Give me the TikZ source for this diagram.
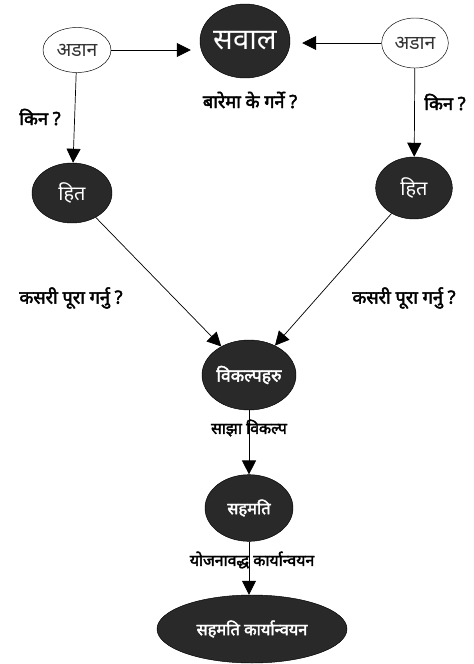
\documentclass[tikz,border=0pt]{standalone}
\usepackage{fontspec}
\newfontfamily\deva[Script=Devanagari]{Noto Sans}
\newfontfamily\devabf[Script=Devanagari,FakeBold=2.5]{Noto Sans}
\usetikzlibrary{arrows.meta,positioning,shapes.geometric}
\tikzset{
  stance/.style={draw,ellipse,fill=white,inner sep=0pt,text=black!80,font=\deva\fontsize{16.5}{18}\selectfont},
  dark/.style={draw,ellipse,fill=black!84,text=white,inner sep=0pt},
  ar/.style={-{Triangle[length=4.2mm,width=4.2mm]},semithick},
  lbl/.style={font=\devabf\fontsize{15.5}{17}\selectfont,inner sep=1pt},
  lbls/.style={font=\devabf\fontsize{13.5}{15}\selectfont,inner sep=1pt}
}

\begin{document}
\begin{tikzpicture}[x=0.03cm,y=-0.03cm]
  \useasboundingbox (0,0) rectangle (474,664);
  % अडान र सवाल
  \node[stance,minimum width=2.04cm,minimum height=1.35cm] (ladan) at (77,50) {अडान};
  \node[stance,minimum width=2.0cm,minimum height=1.5cm] (radan) at (415,43) {अडान};
  \node[dark,minimum width=2.7cm,minimum height=2.22cm,
        font=\deva\fontsize{25}{28}\selectfont] (sawal) at (245,41) {सवाल};
  \node[lbl] (qwhat) at (250,100) {बारेमा के गर्ने ?};
  \draw[ar,shorten >=0.27cm] (ladan.east) -- (ladan.east -| sawal.west);
  \draw[ar,shorten >=0.36cm] (radan.west) -- (radan.west -| sawal.east);

  % हित
  \node[dark,minimum width=2.4cm,minimum height=1.8cm,
        font=\deva\fontsize{17}{20}\selectfont] (lhit) at (72,193) {हित};
  \node[dark,minimum width=2.3cm,minimum height=1.86cm,
        font=\deva\fontsize{17}{20}\selectfont] (rhit) at (414,188) {हित};
  \draw[ar] (ladan) -- (lhit);
  \draw[ar] (radan) -- (rhit);
  \node[lbl] (lwhy) at (40,117) {किन ?};
  \node[lbl] (rwhy) at (445,102) {किन ?};

  % विकल्पहरु
  \node[dark,minimum width=2.82cm,minimum height=2.1cm,
        font=\devabf\fontsize{15}{17}\selectfont] (opts) at (249,375) {विकल्पहरु};
  \draw[ar] (lhit) -- (opts);
  \draw[ar] (rhit) -- (opts);
  \node[lbl] (lhow) at (71,298) {कसरी पूरा गर्नु ?};
  \node[lbl] (rhow) at (404,298) {कसरी पूरा गर्नु ?};

  % सहमति
  \node[dark,minimum width=2.64cm,minimum height=2.0cm,
        font=\devabf\fontsize{14}{16}\selectfont] (agree) at (249,508) {सहमति};
  \draw[ar] (opts) -- (agree);
  \node[lbls] (common) at (249,428) {साझा विकल्प};

  \node[dark,minimum width=5.7cm,minimum height=2.04cm,
        font=\devabf\fontsize{14}{16}\selectfont] (impl) at (252,629) {सहमति कार्यान्वयन};
  \draw[ar] (agree) -- (agree |- impl.north);
  \node[lbls] (plan) at (252,560) {योजनावद्ध कार्यान्वयन};
\end{tikzpicture}
\end{document}
